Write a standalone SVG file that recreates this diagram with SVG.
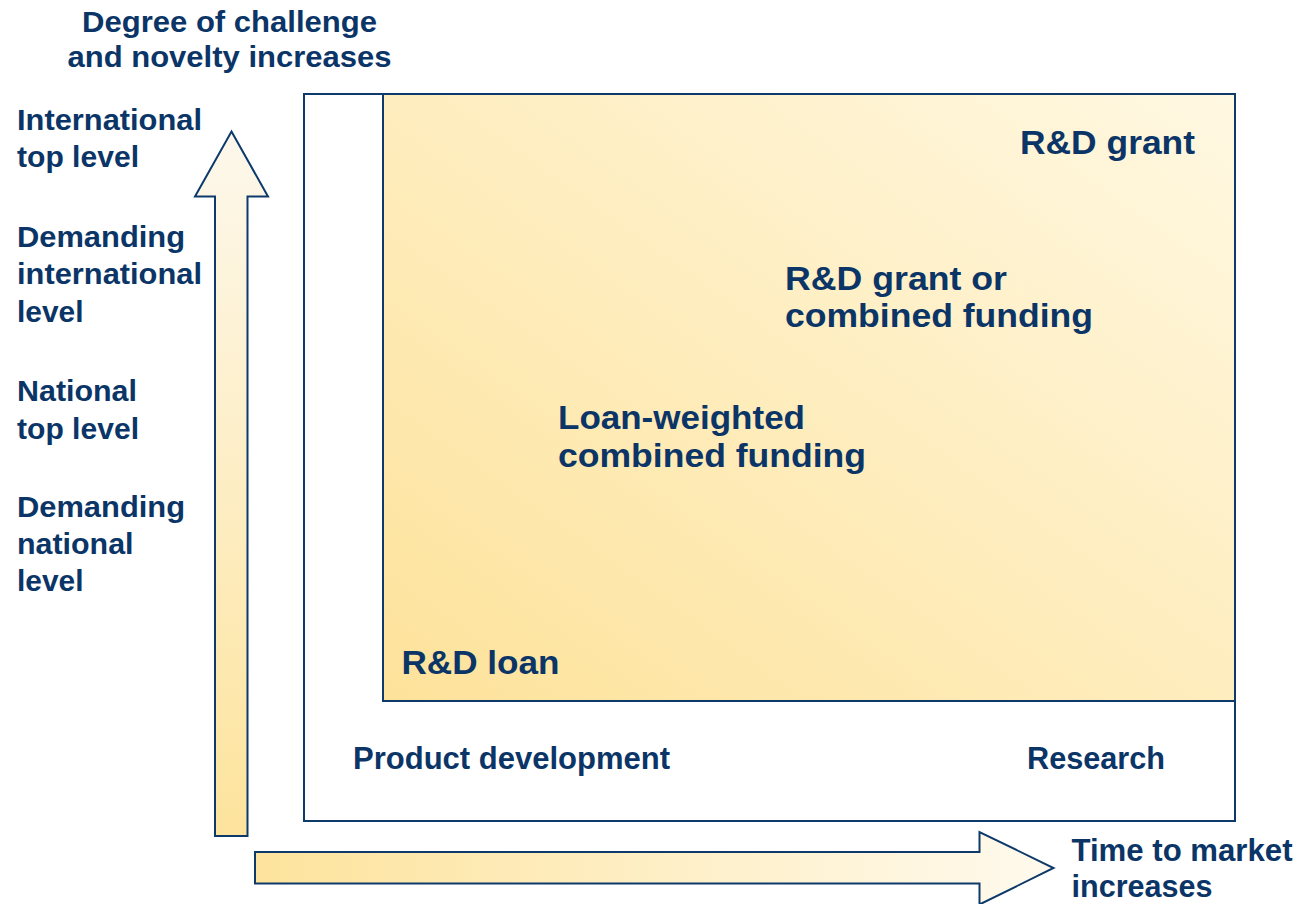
<svg xmlns="http://www.w3.org/2000/svg" width="1299" height="904" viewBox="0 0 1299 904">
  <defs>
    <linearGradient id="gInner" x1="0" y1="1" x2="1" y2="0">
      <stop offset="0" stop-color="#fde29a"/>
      <stop offset="1" stop-color="#fff8e2"/>
    </linearGradient>
    <linearGradient id="gUp" x1="0" y1="1" x2="0" y2="0">
      <stop offset="0" stop-color="#fde39c"/>
      <stop offset="1" stop-color="#fdf8ec"/>
    </linearGradient>
    <linearGradient id="gRight" x1="0" y1="0" x2="1" y2="0">
      <stop offset="0" stop-color="#fde39c"/>
      <stop offset="1" stop-color="#fffaee"/>
    </linearGradient>
    <style>
      .t { font-family: "Liberation Sans", Arial, sans-serif; font-weight: bold; fill: #0b3567; }
      .s { stroke: #0d3a6b; stroke-width: 2; }
      .left { font-size: 30px; }
      .main { font-size: 33px; }
      .axis { font-size: 31px; }
    </style>
  </defs>
  <rect width="1299" height="904" fill="#ffffff"/>

  <g id="frame">
    <rect class="s" x="304" y="94" width="931" height="727" fill="#ffffff"/>
  </g>
  <g id="funding-area">
    <rect class="s" x="383" y="94" width="852" height="607" fill="url(#gInner)"/>
  </g>

  <g id="connectors">
    <polygon id="arrow-up" class="s" fill="url(#gUp)" points="231.5,131.5 268,196.5 247.5,196.5 247.5,836 215,836 215,196.5 195,196.5"/>
    <polygon id="arrow-right" class="s" fill="url(#gRight)" points="255,852 979.5,852 979.5,832 1053.5,868 979.5,904.5 979.5,883.5 255,883.5"/>
  </g>

  <g id="label-y-axis">
    <text class="t left" x="82" y="31.5" textLength="295" lengthAdjust="spacingAndGlyphs">Degree of challenge</text>
    <text class="t left" x="67.5" y="66.5" textLength="324" lengthAdjust="spacingAndGlyphs">and novelty increases</text>
  </g>
  <g id="level-international-top">
    <text class="t left" x="17" y="130" textLength="185" lengthAdjust="spacingAndGlyphs">International</text>
    <text class="t left" x="17" y="166.5" textLength="122" lengthAdjust="spacingAndGlyphs">top level</text>
  </g>
  <g id="level-demanding-international">
    <text class="t left" x="17" y="246.5" textLength="168" lengthAdjust="spacingAndGlyphs">Demanding</text>
    <text class="t left" x="17" y="284" textLength="185" lengthAdjust="spacingAndGlyphs">international</text>
    <text class="t left" x="17" y="321.5" textLength="66.5" lengthAdjust="spacingAndGlyphs">level</text>
  </g>
  <g id="level-national-top">
    <text class="t left" x="17" y="401" textLength="120" lengthAdjust="spacingAndGlyphs">National</text>
    <text class="t left" x="17" y="438.5" textLength="122" lengthAdjust="spacingAndGlyphs">top level</text>
  </g>
  <g id="level-demanding-national">
    <text class="t left" x="17" y="516.5" textLength="168" lengthAdjust="spacingAndGlyphs">Demanding</text>
    <text class="t left" x="17" y="554" textLength="116.5" lengthAdjust="spacingAndGlyphs">national</text>
    <text class="t left" x="17" y="591" textLength="66.5" lengthAdjust="spacingAndGlyphs">level</text>
  </g>

  <g id="rd-grant">
    <text class="t main" x="1020" y="154" textLength="175" lengthAdjust="spacingAndGlyphs">R&amp;D grant</text>
  </g>
  <g id="rd-grant-or-combined">
    <text class="t main" x="785" y="290" textLength="222" lengthAdjust="spacingAndGlyphs">R&amp;D grant or</text>
    <text class="t main" x="785" y="327" textLength="308" lengthAdjust="spacingAndGlyphs">combined funding</text>
  </g>
  <g id="loan-weighted">
    <text class="t main" x="558" y="428.5" textLength="247" lengthAdjust="spacingAndGlyphs">Loan-weighted</text>
    <text class="t main" x="558" y="466.5" textLength="308" lengthAdjust="spacingAndGlyphs">combined funding</text>
  </g>
  <g id="rd-loan">
    <text class="t main" x="401.5" y="673.5" textLength="158" lengthAdjust="spacingAndGlyphs">R&amp;D loan</text>
  </g>

  <g id="label-product-development">
    <text class="t axis" x="353" y="769" textLength="317" lengthAdjust="spacingAndGlyphs">Product development</text>
  </g>
  <g id="label-research">
    <text class="t axis" x="1027" y="769" textLength="138" lengthAdjust="spacingAndGlyphs">Research</text>
  </g>
  <g id="label-x-axis">
    <text class="t axis" x="1071.5" y="860.5" textLength="221" lengthAdjust="spacingAndGlyphs">Time to market</text>
    <text class="t axis" x="1071.5" y="897" textLength="141" lengthAdjust="spacingAndGlyphs">increases</text>
  </g>
</svg>
